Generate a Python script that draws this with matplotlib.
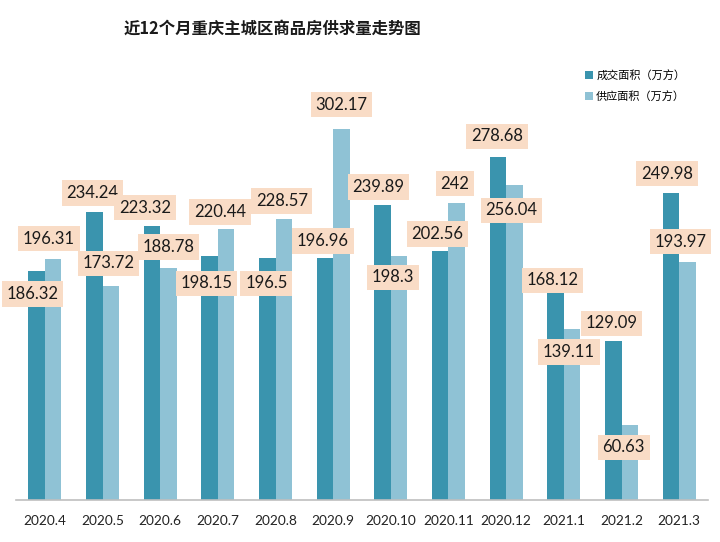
import matplotlib
matplotlib.use("Agg")
import matplotlib.pyplot as plt
import numpy as np

plt.rcParams['font.family'] = ['Lato', 'Noto Sans CJK SC', 'DejaVu Sans']

# data
months = ['2020.4', '2020.5', '2020.6', '2020.7', '2020.8', '2020.9',
          '2020.10', '2020.11', '2020.12', '2021.1', '2021.2', '2021.3']
deal_area = [186.32, 234.24, 223.32, 198.15, 196.5, 196.96,
             239.89, 202.56, 278.68, 168.12, 129.09, 249.98]
supply_area = [196.31, 173.72, 188.78, 220.44, 228.57, 302.17,
               198.3, 242, 256.04, 139.11, 60.63, 193.97]
deal_labels = ['186.32', '234.24', '223.32', '198.15', '196.5', '196.96',
               '239.89', '202.56', '278.68', '168.12', '129.09', '249.98']
supply_labels = ['196.31', '173.72', '188.78', '220.44', '228.57', '302.17',
                 '198.3', '242', '256.04', '139.11', '60.63', '193.97']

# label offsets from bar top (pixels), placed by hand in the original
deal_off = [(-4, -23), (-2, 19), (-7, 18), (-3, -27), (-1, -25), (-2, 17),
            (-4, 18), (-3, 17), (-1, 21), (-3, 13), (-2, 18), (-4, 19)]
supply_off = [(-4, 20), (-2, 23), (0, 21), (-6, 17), (-2, 18), (0, 24),
              (-6, -21), (-2, 19), (-3, -25), (-3, -23), (-6, -22), (-7, 20)]

dark = '#3a94ae'
light = '#8fc2d5'
peach = '#f9dcc6'

fig = plt.figure(figsize=(7.2, 5.42), dpi=100)
ax = fig.add_axes([16 / 720, 1 - 500 / 542, 692 / 720, 440 / 542])

x = np.arange(len(months))
w = 0.285
b1 = ax.bar(x - w / 2, deal_area, w, color=dark, label='成交面积（万方）')
b2 = ax.bar(x + w / 2, supply_area, w, color=light, label='供应面积（万方）')

box = dict(boxstyle='square,pad=0.28', facecolor=peach, edgecolor='none')
for bars, labels, offs in [(b2, supply_labels, supply_off), (b1, deal_labels, deal_off)]:
    for rect, lab, (dx, dy) in zip(bars, labels, offs):
        ax.annotate(lab, (rect.get_x() + rect.get_width() / 2, rect.get_height()),
                    xytext=(dx, dy), textcoords='offset pixels',
                    ha='center', va='center', fontsize=12, color='#1a1a1a',
                    bbox=box, zorder=5)

ax.set_xlim(-0.5, len(months) - 0.5)
ax.set_ylim(0, 358)
ax.set_xticks(x)
ax.set_xticklabels(months, fontsize=9.8, color='#222222')
ax.tick_params(axis='x', length=0, pad=11)
ax.set_yticks([])
for s in ['top', 'right', 'left']:
    ax.spines[s].set_visible(False)
ax.spines['bottom'].set_color('#bfbfbf')
ax.spines['bottom'].set_linewidth(1.2)

fig.text(272 / 720, 1 - 29 / 542, '近12个月重庆主城区商品房供求量走势图',
         ha='center', va='center', fontsize=11.8, fontweight='bold',
         family=['Noto Sans CJK SC'], color='#1a1a1a')

leg = fig.legend(handles=[b1, b2], loc='upper left',
                 bbox_to_anchor=(575 / 720, 1 - 60 / 542),
                 frameon=False, handlelength=0.7, handleheight=0.7,
                 handletextpad=0.3, labelspacing=0.9,
                 prop={'family': ['Noto Sans CJK SC'], 'size': 8})

fig.savefig('out.png', dpi=100, facecolor='white')
